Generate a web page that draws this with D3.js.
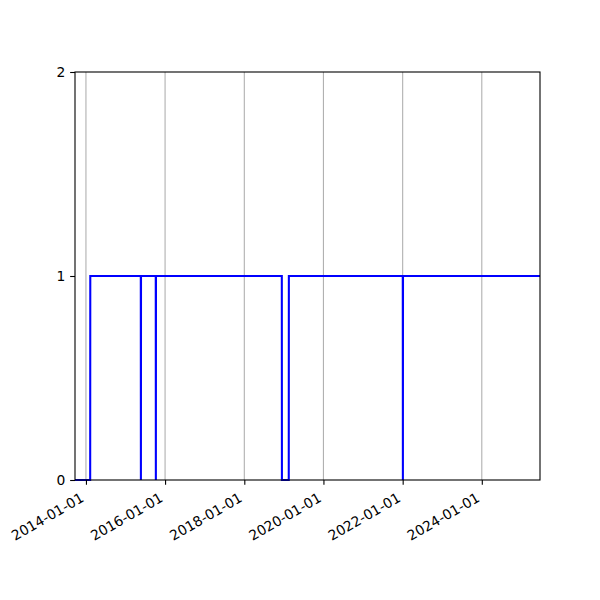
<!DOCTYPE html>
<html>
<head>
<meta charset="utf-8">
<script src="https://cdn.jsdelivr.net/npm/d3@7"></script>
<style>
  html, body { margin: 0; padding: 0; background: #fff; }
  svg { display: block; }
  text { font-family: "DejaVu Sans", sans-serif; }
</style>
</head>
<body>
<script>
// ---- data ----
const dates = [
  "2013-09-22", "2014-02-09", "2014-02-10",
  "2015-05-22", "2015-05-23", "2015-05-24",
  "2015-10-07", "2015-10-08", "2015-10-09",
  "2018-12-13", "2018-12-14",
  "2019-02-15", "2019-02-16",
  "2022-01-02", "2022-01-03", "2022-01-04",
  "2025-06-21"
];
const values = [
  0, 0, 1,
  1, 0, 1,
  1, 0, 1,
  1, 0,
  0, 1,
  1, 0, 1,
  1
];
const xTickLabels = ["2014-01-01", "2016-01-01", "2018-01-01", "2020-01-01", "2022-01-01", "2024-01-01"];
const yTickValues = [0, 1, 2];

// ---- layout ----
const W = 600, H = 600;
const margin = { left: 75, right: 60, top: 72, bottom: 120 };
const iw = W - margin.left - margin.right;
const ih = H - margin.top - margin.bottom;

const parse = d3.utcParse("%Y-%m-%d");
const data = dates.map((d, i) => ({ date: parse(d), value: values[i] }));

const svg = d3.select("body").append("svg").attr("width", W).attr("height", H);
const g = svg.append("g").attr("transform", `translate(${margin.left},${margin.top})`);

const x = d3.scaleUtc().domain(d3.extent(data, d => d.date)).range([0, iw]);
const y = d3.scaleLinear().domain([0, 2]).range([ih, 0]);

const xTicks = xTickLabels.map(parse);

// grid (vertical only)
g.append("g").selectAll("line").data(xTicks).join("line")
  .attr("x1", d => x(d)).attr("x2", d => x(d))
  .attr("y1", 0).attr("y2", ih)
  .attr("stroke", "#b0b0b0").attr("stroke-width", 1.1);

// line
const line = d3.line().x(d => x(d.date)).y(d => y(d.value));
g.append("path").datum(data)
  .attr("d", line)
  .attr("fill", "none")
  .attr("stroke", "#0000ff")
  .attr("stroke-width", 2.08)
  .attr("stroke-linejoin", "miter");

// spines
g.append("rect").attr("x", 0).attr("y", 0).attr("width", iw).attr("height", ih)
  .attr("fill", "none").attr("stroke", "#000").attr("stroke-width", 1.1);

// x axis
const xAxis = d3.axisBottom(x).tickValues(xTicks).tickSize(4.86).tickPadding(0)
  .tickFormat(d3.utcFormat("%Y-%m-%d"));
const gx = g.append("g").attr("transform", `translate(0,${ih})`).call(xAxis);
gx.select(".domain").remove();
gx.selectAll(".tick line").attr("stroke", "#000").attr("stroke-width", 1.1);
gx.selectAll(".tick text")
  .attr("font-size", 13.89)
  .attr("fill", "#000")
  .attr("text-anchor", "end")
  .attr("dy", null)
  .attr("y", null)
  .attr("transform", "translate(-1.6,20.7) rotate(-30)");

// y axis
const yAxis = d3.axisLeft(y).tickValues(yTickValues).tickSize(4.86).tickPadding(4.86)
  .tickFormat(d3.format("d"));
const gy = g.append("g").call(yAxis);
gy.select(".domain").remove();
gy.selectAll(".tick line").attr("stroke", "#000").attr("stroke-width", 1.1);
gy.selectAll(".tick text").attr("font-size", 13.89).attr("fill", "#000").attr("dy", "0.35em");
</script>
</body>
</html>
